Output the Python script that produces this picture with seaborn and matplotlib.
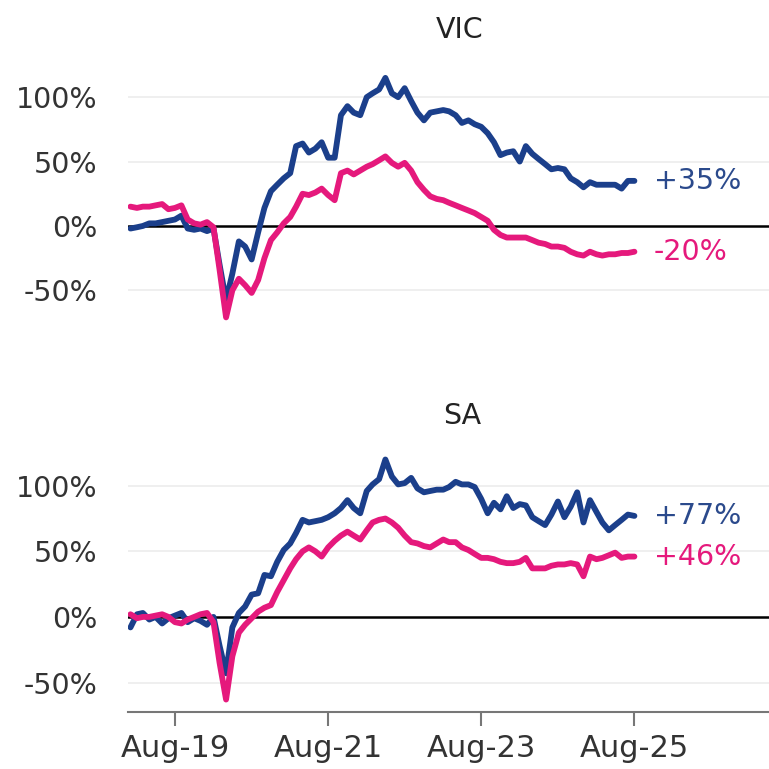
import pandas as pd
import matplotlib.pyplot as plt
import matplotlib.dates as mdates
import seaborn as sns

# --- DATA (% change, monthly Jan-19 .. Aug-25) ---
months = pd.date_range("2019-01-01", periods=80, freq="MS")

vic_blue = [-2, -1, 0, 2, 2, 3, 4, 5, 8, -2,
            -3, -2, -4, -2, -30, -58, -37, -12, -16, -26,
            -5, 14, 27, 32, 37, 41, 62, 64, 57, 60,
            65, 53, 53, 86, 93, 88, 86, 100, 103, 106,
            115, 103, 100, 107, 97, 88, 82, 88, 89, 90,
            89, 86, 80, 82, 79, 77, 72, 65, 55, 57,
            58, 50, 62, 56, 52, 48, 44, 45, 44, 37,
            34, 30, 34, 32, 32, 32, 32, 29, 35, 35]

vic_pink = [15, 14, 15, 15, 16, 17, 13, 14, 16, 5,
            2, 1, 3, -1, -34, -71, -50, -41, -46, -52,
            -42, -25, -11, -5, 2, 7, 15, 25, 24, 26,
            29, 24, 20, 41, 43, 40, 43, 46, 48, 51,
            54, 49, 46, 49, 43, 34, 28, 23, 21, 20,
            18, 16, 14, 12, 10, 7, 4, -3, -7, -9,
            -9, -9, -9, -11, -13, -14, -16, -16, -17, -20,
            -22, -23, -20, -22, -23, -22, -22, -21, -21, -20]

sa_blue = [-8, 2, 3, -2, 0, -5, -1, 1, 3, -4,
           -1, -3, -6, 0, -22, -43, -8, 3, 8, 17,
           18, 32, 31, 42, 51, 56, 64, 74, 72, 73,
           74, 76, 79, 83, 89, 83, 79, 96, 101, 105,
           120, 107, 101, 102, 106, 98, 95, 96, 97, 97,
           99, 103, 101, 101, 99, 90, 79, 87, 82, 92,
           83, 86, 85, 76, 73, 70, 78, 88, 76, 84,
           95, 72, 89, 80, 72, 66, 70, 74, 78, 77]

sa_pink = [2, -1, 0, 0, 1, 2, 0, -4, -5, -2,
           0, 2, 3, -4, -35, -63, -30, -12, -6, -1,
           4, 7, 9, 19, 28, 37, 44, 50, 53, 50,
           46, 53, 58, 62, 65, 62, 59, 66, 72, 74,
           75, 72, 68, 62, 57, 56, 54, 53, 56, 59,
           57, 57, 53, 51, 48, 45, 45, 44, 42, 41,
           41, 42, 45, 37, 37, 37, 39, 40, 40, 41,
           40, 31, 46, 44, 45, 47, 49, 45, 46, 46]

states = ["VIC", "SA"]
end_labels = {"VIC": ["+35%", "-20%"], "SA": ["+77%", "+46%"]}
tick_dates = pd.to_datetime(["2019-08-01", "2021-08-01", "2023-08-01", "2025-08-01"])

BLUE = "#1b3f8b"
PINK = "#e5197c"
TEXT = "#333333"

sns.set_style("white")
plt.rcParams["font.family"] = ["DejaVu Sans"]

fig = plt.figure(figsize=(7.69, 7.69), dpi=100)
ax_top = fig.add_axes([0.1664, 0.5722, 0.8336, 0.3433])
ax_bot = fig.add_axes([0.1664, 0.0741, 0.8336, 0.3369])

panels = {
    "VIC": (ax_top, vic_blue, vic_pink, (-80, 125)),
    "SA": (ax_bot, sa_blue, sa_pink, (-72.5, 125)),
}

for state, (ax, blue, pink, ylim) in panels.items():
    df = pd.DataFrame({
        "date": list(months) * 2,
        "value": blue + pink,
        "series": ["blue"] * len(blue) + ["pink"] * len(pink),
    })
    for y in [100, 50, -50]:
        ax.axhline(y, color="#ececec", lw=1.2, zorder=0)
    ax.axhline(0, color="black", lw=1.8, zorder=1)
    sns.lineplot(data=df, x="date", y="value", hue="series",
                 palette={"blue": BLUE, "pink": PINK}, lw=4.2,
                 legend=False, ax=ax, zorder=3)

    ax.set_ylim(*ylim)
    ax.set_xlim(pd.Timestamp("2018-12-20"), pd.Timestamp("2027-05-05"))
    ax.set_yticks([100, 50, 0, -50])
    ax.set_yticklabels(["100%", "50%", "0%", "-50%"], fontsize=20.5, color=TEXT)
    ax.tick_params(axis="y", length=0, pad=22)
    ax.set_xlabel("")
    ax.set_ylabel("")
    for s in ["top", "right", "left"]:
        ax.spines[s].set_visible(False)

    # end-value labels
    lab_x = months[-1] + pd.DateOffset(months=3)
    ax.text(lab_x, blue[-1], end_labels[state][0], color="#2b4a8c",
            fontsize=20.5, va="center", ha="left")
    ax.text(lab_x, pink[-1], end_labels[state][1], color=PINK,
            fontsize=20.5, va="center", ha="left")

# top panel: no x-axis
ax_top.spines["bottom"].set_visible(False)
ax_top.set_xticks([])

# bottom panel: date axis
ax_bot.spines["bottom"].set_color("#777777")
ax_bot.spines["bottom"].set_linewidth(1.5)
ax_bot.set_xticks(tick_dates)
ax_bot.xaxis.set_major_formatter(mdates.DateFormatter("%b-%y"))
ax_bot.tick_params(axis="x", direction="out", length=10, width=1.5,
                   color="#777777", labelsize=22, labelcolor=TEXT, pad=6)
ax_bot.xaxis.set_ticks_position("bottom")

fig.text(460 / 769, 1 - 30 / 769, "VIC", ha="center", va="center", fontsize=20.5, color="#222222")
fig.text(462 / 769, 1 - 416 / 769, "SA", ha="center", va="center", fontsize=20.5, color="#222222")

fig.savefig("out.png", dpi=100)
plt.close(fig)
